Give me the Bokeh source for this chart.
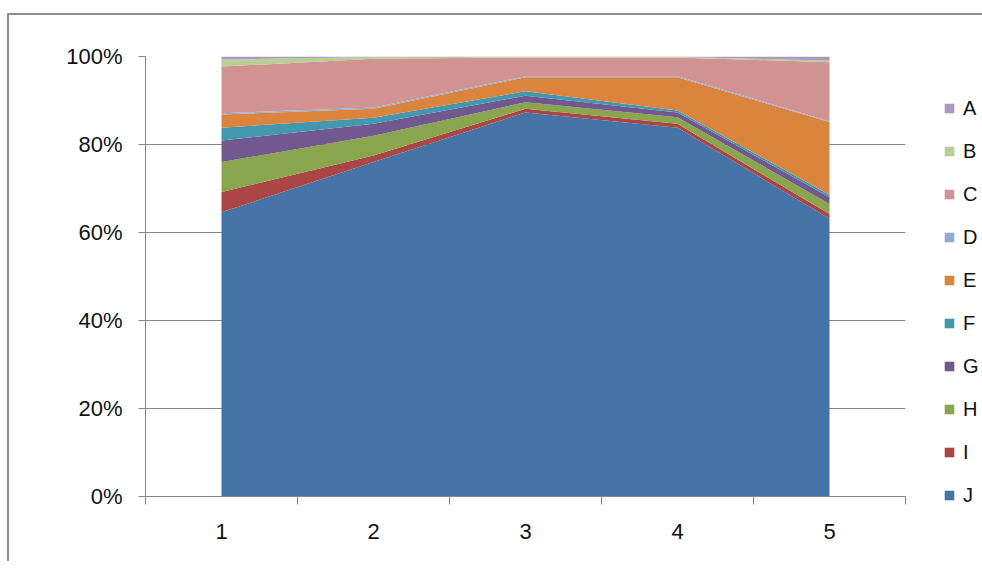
from bokeh.plotting import figure
from bokeh.models import ColumnDataSource, Range1d, FixedTicker, Legend, LegendItem
from bokeh.embed import file_html
from bokeh.resources import INLINE

# ---- data (percent of total, 100% stacked) ----
categories = [1, 2, 3, 4, 5]
series_names = ["A", "B", "C", "D", "E", "F", "G", "H", "I", "J"]
A = [0.7, 0.1, 0.1, 0.1, 0.9]
B = [1.6, 0.4, 0.1, 0.1, 0.4]
C = [10.6, 11.1, 4.3, 4.3, 13.4]
D = [0.3, 0.3, 0.2, 0.2, 0.2]
E = [3.0, 2.0, 3.2, 7.6, 16.5]
F = [2.9, 1.4, 1.0, 0.4, 0.6]
G = [4.9, 2.7, 1.5, 1.1, 1.5]
H = [6.8, 4.5, 1.5, 1.5, 2.3]
I = [4.6, 1.5, 0.8, 0.9, 1.1]
J = [64.6, 76.0, 87.3, 83.8, 63.1]
y_ticks = [0, 20, 40, 60, 80, 100]
y_labels = ["0%", "20%", "40%", "60%", "80%", "100%"]

colors = {
    "A": "#A99BBD", "B": "#B9CD96", "C": "#D19392", "D": "#93A9CF",
    "E": "#DB843D", "F": "#4198AF", "G": "#71588F", "H": "#89A54E",
    "I": "#AA4643", "J": "#4572A7",
}
values = {"A": A, "B": B, "C": C, "D": D, "E": E, "F": F, "G": G, "H": H, "I": I, "J": J}

data = {"x": categories}
data.update(values)
source = ColumnDataSource(data)

FONT = "Liberation Sans"
GRAY = "#868686"
TEXT = "#111111"

p = figure(
    frame_width=760, frame_height=440,
    x_range=Range1d(0.5, 5.5), y_range=Range1d(0, 100),
    output_backend="svg", toolbar_location=None,
    min_border_left=136, min_border_top=41, min_border_bottom=65, min_border_right=77,
)
p.margin = (13, 0, 0, 7)
p.styles = {"border-left": "2px solid #8e8e8e", "border-top": "2px solid #8e8e8e"}
p.outline_line_color = None
p.background_fill_color = "white"
p.border_fill_color = "white"

# stack from bottom J up to A
stack_order = ["J", "I", "H", "G", "F", "E", "D", "C", "B", "A"]
renderers = p.varea_stack(stackers=stack_order, x="x", color=[colors[s] for s in stack_order], source=source)
rmap = dict(zip(stack_order, renderers))

# grid
p.xgrid.grid_line_color = None
p.ygrid.grid_line_color = GRAY
p.ygrid.ticker = FixedTicker(ticks=y_ticks)
p.ygrid.level = "underlay"

# y axis
ya = p.yaxis[0]
ya.ticker = FixedTicker(ticks=y_ticks)
ya.major_label_overrides = {t: l for t, l in zip(y_ticks, y_labels)}
ya.axis_line_color = GRAY
ya.major_tick_line_color = GRAY
ya.major_tick_out = 7
ya.major_tick_in = 0
ya.minor_tick_line_color = None
ya.major_label_standoff = 16
ya.major_label_text_font = FONT
ya.major_label_text_font_size = "22px"
ya.major_label_text_color = TEXT

# x axis
xa = p.xaxis[0]
xa.ticker = FixedTicker(ticks=categories, minor_ticks=[0.5, 1.5, 2.5, 3.5, 4.5, 5.5])
xa.axis_line_color = GRAY
xa.major_tick_line_color = None
xa.major_tick_out = 0
xa.major_tick_in = 0
xa.minor_tick_line_color = GRAY
xa.minor_tick_out = 8
xa.minor_tick_in = 0
xa.major_label_standoff = 19
xa.major_label_text_font = FONT
xa.major_label_text_font_size = "22px"
xa.major_label_text_color = TEXT

# legend
items = [LegendItem(label=s, renderers=[rmap[s]]) for s in series_names]
legend = Legend(items=items, location=(38, -11))
legend.border_line_color = None
legend.background_fill_alpha = 0
legend.padding = 0
legend.margin = 0
legend.glyph_width = 12
legend.glyph_height = 12
legend.label_standoff = 8
legend.label_text_font = FONT
legend.label_text_font_size = "20px"
legend.label_text_color = TEXT
legend.label_height = 24
legend.spacing = 19
p.add_layout(legend, "right")

open("out.html", "w").write(file_html(p, INLINE))
